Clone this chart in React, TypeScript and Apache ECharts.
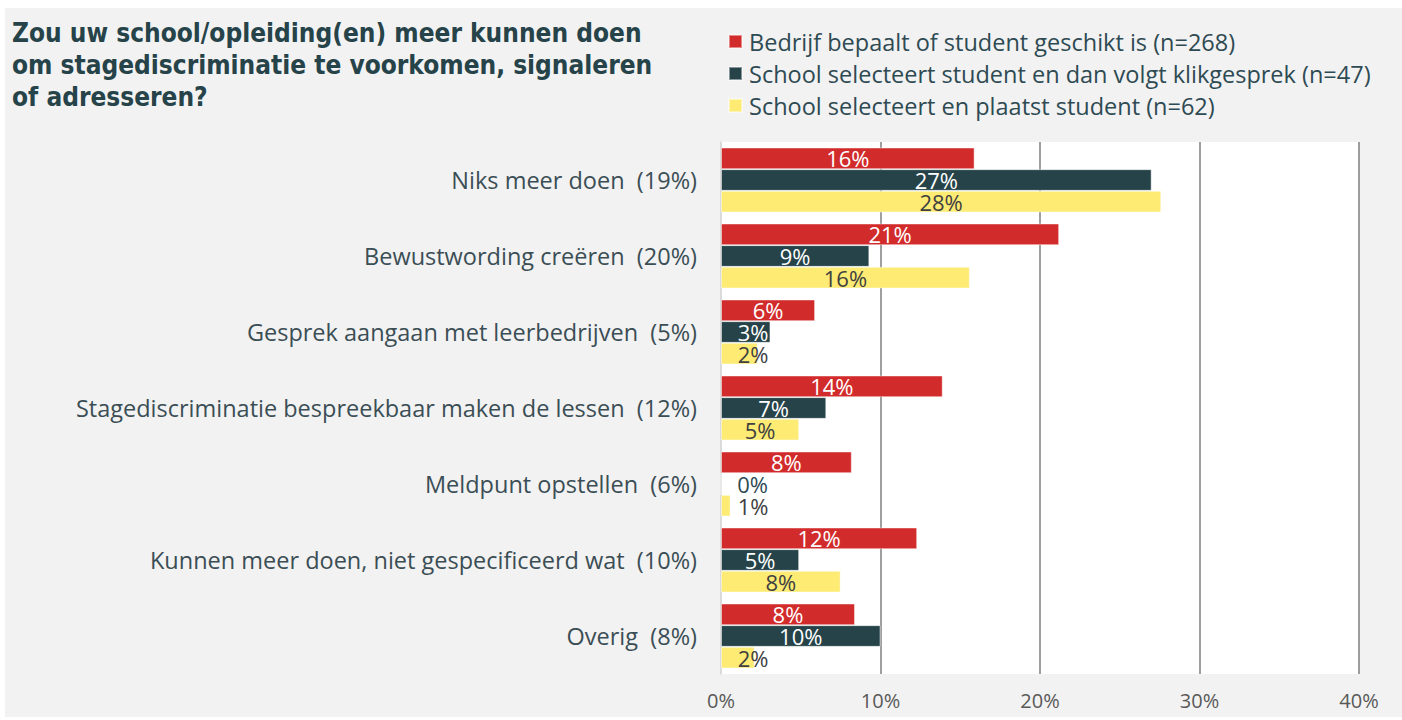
import React, { useEffect, useRef } from "react";
import * as echarts from "echarts";

const titleText = "Zou uw school/opleiding(en) meer kunnen doen\nom stagediscriminatie te voorkomen, signaleren\nof adresseren?";

const categories = [
  "Niks meer doen  (19%)",
  "Bewustwording creëren  (20%)",
  "Gesprek aangaan met leerbedrijven  (5%)",
  "Stagediscriminatie bespreekbaar maken de lessen  (12%)",
  "Meldpunt opstellen  (6%)",
  "Kunnen meer doen, niet gespecificeerd wat  (10%)",
  "Overig  (8%)",
];

const seriesNames = [
  "Bedrijf bepaalt of student geschikt is (n=268)",
  "School selecteert student en dan volgt klikgesprek (n=47)",
  "School selecteert en plaatst student (n=62)",
];

const bedrijfValues = [15.9, 21.2, 5.9, 13.9, 8.2, 12.3, 8.4];
const klikgesprekValues = [27.0, 9.3, 3.1, 6.6, 0, 4.9, 10.0];
const plaatstValues = [27.6, 15.6, 2.3, 4.9, 0.6, 7.5, 2.1];

const xTicks = [0, 10, 20, 30, 40];

const colors = ["#d22b2b", "#264349", "#fdeb74"];
const labelColors = ["#ffffff", "#ffffff", "#404040"];
const FONT = "'Open Sans', Lato, sans-serif";

export default function App() {
  const ref = useRef<HTMLDivElement>(null);
  useEffect(() => {
    if (!ref.current) return;
    const chart = echarts.init(ref.current, null, { renderer: "svg" });
    const all = [bedrijfValues, klikgesprekValues, plaatstValues];
    const series = all.map((vals, si) => ({
      name: seriesNames[si],
      type: "bar",
      barGap: "0%",
      barCategoryGap: "14.5%",
      itemStyle: { color: colors[si], borderColor: "rgba(255,255,255,0.45)", borderWidth: 1 },
      label: {
        show: true,
        position: "inside",
        color: labelColors[si],
        fontSize: 22,
        lineHeight: 22,
        fontFamily: FONT,
        formatter: (p: any) => Math.round(p.value) + "%",
      },
      data: vals.map((v) => {
        if (v < 4) {
          return {
            value: v,
            label: {
              position: [32, "50%"],
              align: "center",
              verticalAlign: "middle",
              color: v === 0 ? "#2e4a52" : labelColors[si],
            },
          };
        }
        return { value: v };
      }),
    }));
    chart.setOption({
      animation: false,
      backgroundColor: "#f2f2f2",
      title: {
        text: titleText,
        left: 2,
        top: 4,
        textStyle: {
          fontFamily: "'Liberation Sans Narrow', 'DejaVu Sans Condensed', Lato, sans-serif",
          fontWeight: "bold",
          fontSize: 26,
          lineHeight: 32,
          color: "#264349",
        },
      },
      legend: {
        orient: "vertical",
        left: 718,
        top: 16,
        itemWidth: 13,
        itemHeight: 13,
        itemGap: 7,
        icon: "rect",
        data: seriesNames,
        textStyle: {
          fontFamily: FONT,
          fontSize: 23.5,
          lineHeight: 25,
          color: "#2e4a52",
          padding: [0, 0, 0, 2],
        },
      },
      grid: {
        left: 716,
        top: 134,
        width: 638,
        height: 532,
        show: true,
        backgroundColor: "#ffffff",
        borderWidth: 0,
      },
      xAxis: {
        type: "value",
        min: xTicks[0],
        max: xTicks[xTicks.length - 1],
        interval: 10,
        axisLine: { show: false },
        axisTick: { show: false },
        axisLabel: {
          formatter: "{value}%",
          color: "#595959",
          fontSize: 20,
          fontFamily: FONT,
          margin: 16,
        },
        splitLine: {
          show: true,
          lineStyle: { color: ["#d9d9d9", "#7f7f7f", "#7f7f7f", "#7f7f7f", "#7f7f7f"], width: 1.5 },
        },
      },
      yAxis: {
        type: "category",
        inverse: true,
        data: categories,
        axisLine: { show: true, lineStyle: { color: "#d9d9d9", width: 1.5 } },
        axisTick: { show: false },
        axisLabel: {
          color: "#3b4e55",
          fontSize: 23.5,
          fontFamily: FONT,
          margin: 24,
        },
      },
      series,
    });
    return () => chart.dispose();
  }, []);
  return (
    <div style={{ position: "absolute", left: 0, top: 0, width: 1402, height: 720, background: "#ffffff" }}>
      <div ref={ref} style={{ position: "absolute", left: 5, top: 8, width: 1397, height: 709 }} />
    </div>
  );
}
